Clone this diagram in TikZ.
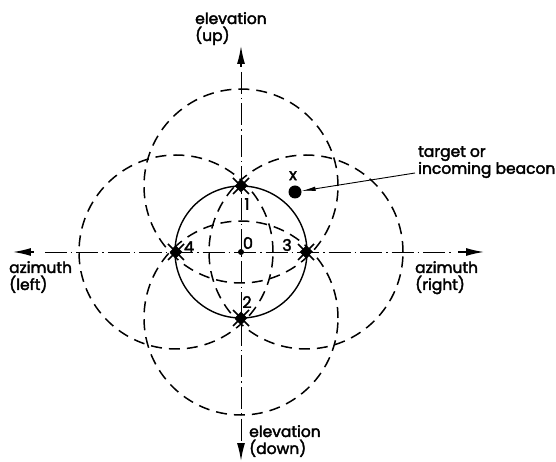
\documentclass[tikz,border=0pt]{standalone}
\usepackage{fontspec}
\setmainfont{Poppins}[FakeBold=2.4]
\usepackage{tikz}
\usetikzlibrary{positioning, shapes.geometric, arrows.meta, calc}

\begin{document}
\begin{tikzpicture}[x=1pt, y=1pt, font=\fontsize{15.5}{17}\selectfont,
  axis/.style={line width=0.9pt, dash pattern=on 22pt off 4pt on 1.5pt off 4pt},
  beam/.style={line width=1.5pt, dash pattern=on 11pt off 7pt},
  bigarrow/.style={line width=1.4pt, -{Latex[length=18pt, width=8pt]}},
  marker/.style={diamond, fill, inner sep=0pt, minimum size=13pt},
  lbl/.style={align=left, inner sep=0pt, anchor=north west},
  num/.style={inner sep=0pt, font=\fontsize{16}{16}\selectfont}]
\useasboundingbox (-241,-210) rectangle (315,252);

% centre and the four lobe positions
\node[circle, fill, inner sep=0pt, minimum size=6pt] (c0) at (0,0) {};
\node[marker] (m1) at (0,66) {};
\node[marker] (m2) at (0,-66) {};
\node[marker] (m3) at (65,0) {};
\node[marker] (m4) at (-65,0) {};

\draw[line width=1.4pt] (c0) circle (66);
\foreach \m in {m1,m2,m3,m4} {
  \draw[beam] (\m) circle (97);
  \draw[line width=1.5pt] ($(\m)+(-8,-8)$) -- ($(\m)+(8,8)$)
    ($(\m)+(-8,8)$) -- ($(\m)+(8,-8)$);
}

% axes
\coordinate (upT) at (0,206);
\coordinate (upB) at (0,185);
\coordinate (dnT) at (0,-209);
\coordinate (dnB) at (0,-194);
\coordinate (lfT) at (-228,0);
\coordinate (lfB) at (-207,0);
\coordinate (rtT) at (243,0);
\coordinate (rtB) at (217,0);
\draw[axis] (0,180) -- (0,-190);
\draw[axis] (-196,0) -- (211,0);
\draw[bigarrow] (upB) -- (upT);
\draw[bigarrow] (dnB) -- (dnT);
\draw[bigarrow] (lfB) -- (lfT);
\draw[bigarrow] (rtB) -- (rtT);

\node[lbl] (elup) at (-46,240) {elevation\\(up)};
\node[lbl] (eldn) at (8,-173) {elevation\\(down)};
\node[lbl] (azl) at (-232,-9) {azimuth\\(left)};
\node[lbl] (azr) at (174,-9) {azimuth\\(right)};

% numbers
\node[num] (n0) at (7,9) {0};
\node[num] (n1) at (6,48) {1};
\node[num] (n2) at (6,-50) {2};
\node[num] (n3) at (46,7) {3};
\node[num] (n4) at (-52,5) {4};

% target
\node[circle, fill, inner sep=0pt, minimum size=13pt] (tgt) at (54,60) {};
\node[num, above=5pt of tgt, xshift=-2pt] (tx) {x};
\node[lbl] (tlbl) at (177,106) {target or\\incoming beacon};
\coordinate (lead) at (174,79);
\draw[line width=0.9pt, -{Latex[length=14pt, width=4.5pt]}] (lead) -- (tgt);
\end{tikzpicture}
\end{document}
